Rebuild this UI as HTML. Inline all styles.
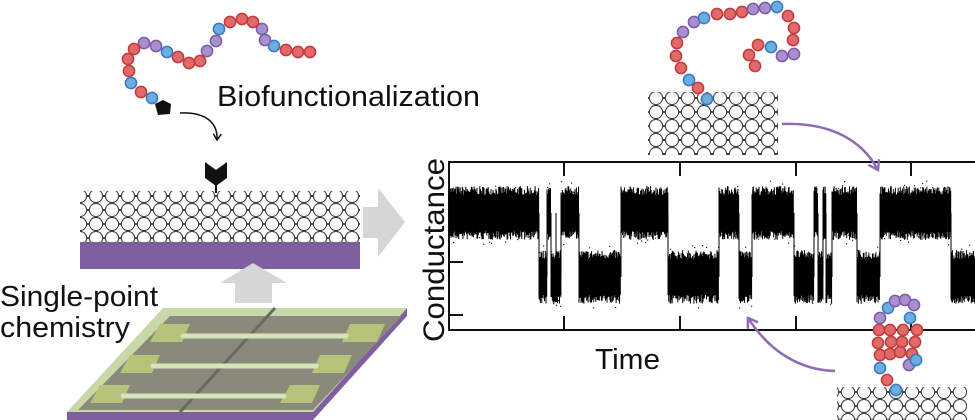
<!DOCTYPE html>
<html><head><meta charset="utf-8"><style>
html,body{margin:0;padding:0;background:#fff;width:975px;height:420px;overflow:hidden}
svg{display:block}
text{font-family:"Liberation Sans","DejaVu Sans",sans-serif;fill:#111}
</style></head><body>
<svg id="s" width="975" height="420" viewBox="0 0 975 420" xmlns="http://www.w3.org/2000/svg">
<defs>
<pattern id="hc" width="16" height="14" patternUnits="userSpaceOnUse">
<rect width="16" height="14" fill="#fff"/>
<circle cx="8" cy="7" r="6.6" fill="#fbfbfb" stroke="#444" stroke-width="1.1"/>
<circle cx="0" cy="0" r="6.6" fill="#fbfbfb" stroke="#444" stroke-width="1.1"/>
<circle cx="16" cy="0" r="6.6" fill="#fbfbfb" stroke="#444" stroke-width="1.1"/>
<circle cx="0" cy="14" r="6.6" fill="#fbfbfb" stroke="#444" stroke-width="1.1"/>
<circle cx="16" cy="14" r="6.6" fill="#fbfbfb" stroke="#444" stroke-width="1.1"/>
</pattern>
<marker id="ah" markerWidth="10" markerHeight="10" refX="7" refY="5" orient="auto" markerUnits="userSpaceOnUse"><path d="M1,1 L7,5 L1,9" fill="none" stroke="#111" stroke-width="1.5"/></marker>
<marker id="ap" markerWidth="14" markerHeight="14" refX="10" refY="7" orient="auto" markerUnits="userSpaceOnUse"><path d="M1,1 L10,7 L1,13" fill="none" stroke="#8e6bb5" stroke-width="2.5"/></marker>
</defs>

<rect x="80" y="191" width="280" height="51" fill="url(#hc)"/>
<rect x="80" y="242" width="280" height="27" fill="#7e5fa0"/>
<line x1="216" y1="178" x2="216" y2="193" stroke="#111" stroke-width="2"/>
<path d="M205,162 L216,170 L227,162 L227,178 L216,186 L205,178 Z" fill="#111"/>
<path d="M363,207 L378,207 L378,188 L405,222 L378,257 L378,238 L363,238 Z" fill="#d6d6d6"/>
<path d="M235,303 L235,283 L220,283 L253,263 L287,283 L272,283 L272,303 Z" fill="#d6d6d6"/>

<polygon points="407,308 407,316 313,420 313,412" fill="#7e5fa0"/>
<rect x="67" y="412" width="246" height="8" fill="#7e5fa0"/>
<polygon points="163,308 407,308 313,412 67,412" fill="#c8d8a8"/>
<polygon points="170,316 402,316 313,410 78,410" fill="#8a8a7c"/>
<line x1="275" y1="308" x2="180" y2="412" stroke="#6a6a60" stroke-width="3"/>
<g fill="#b7c27a">
<polygon points="160,324 190,324 182,342 150,342"/><polygon points="350,324 385,324 377,342 342,342"/>
<polygon points="130,355 160,355 152,373 120,373"/><polygon points="320,355 352,355 344,373 312,373"/>
<polygon points="100,385 130,385 122,403 90,403"/><polygon points="290,385 320,385 312,403 280,403"/>
</g>
<g stroke="#d6e4bc" stroke-width="5" stroke-linecap="round">
<line x1="183" y1="336" x2="346" y2="336"/><line x1="153" y1="366" x2="316" y2="366"/><line x1="123" y1="396" x2="284" y2="396"/>
</g>

<text x="217" y="106" font-size="29" textLength="263" lengthAdjust="spacingAndGlyphs">Biofunctionalization</text>
<text x="0" y="306" font-size="29" textLength="158" lengthAdjust="spacingAndGlyphs">Single-point</text>
<text x="0" y="337" font-size="29" textLength="130" lengthAdjust="spacingAndGlyphs">chemistry</text>
<text x="595" y="369" font-size="29" textLength="65" lengthAdjust="spacingAndGlyphs">Time</text>
<text transform="translate(444,250) rotate(-90)" font-size="30" text-anchor="middle" textLength="184" lengthAdjust="spacingAndGlyphs">Conductance</text>

<path d="M180,113 C205,112 218,122 217,140" fill="none" stroke="#111" stroke-width="1.5" marker-end="url(#ah)"/>

<g stroke="#111" stroke-width="2" fill="none">
<path d="M977,162 L449,162 L449,330 L977,330"/>
<path d="M564,162 V176 M680,162 V176 M796,162 V176 M911,162 V176 M564,330 V316 M680,330 V316 M796,330 V316 M911,330 V316 M449,262 H463 M449,315 H463"/>
</g>
<g id="sig"></g>

<rect x="648" y="92" width="130" height="63" fill="url(#hc)"/>
<rect x="837" y="387" width="130" height="40" fill="url(#hc)"/>

<path d="M782,124 C830,122 862,140 878,170" fill="none" stroke="#8e6bb5" stroke-width="2.5" marker-end="url(#ap)"/>
<path d="M835,371 C800,370 770,352 748,318" fill="none" stroke="#8e6bb5" stroke-width="2.5" marker-end="url(#ap)"/>
<g id="beads"></g>
</svg>
<script>
var NS="http://www.w3.org/2000/svg";
var sig=document.getElementById("sig");
var segs=[[449,539,'H'],[539,547,'L'],[547,551,'H'],[551,556,'L'],[556,561,'L'],[561,579,'H'],[579,621,'L'],[621,668,'H'],[668,719,'L'],[719,739,'H'],[739,752,'L'],[752,794,'H'],[794,814,'L'],[814,818,'H'],[818,823,'L'],[823,826,'H'],[826,832,'L'],[832,857,'H'],[857,880,'L'],[880,951,'H'],[951,975,'L']];
var seed=7;function r(){seed=(seed*16807)%2147483647;return seed/2147483647;}
var d="";
segs.forEach(function(s){var c=s[2]=='H'?213:277;for(var x=s[0];x<s[1];x+=0.7){var a=c-18-r()*9,b=c+18+r()*9;d+="M"+x.toFixed(1)+","+a.toFixed(1)+"V"+b.toFixed(1);}
for(var x=s[0];x<s[1];x+=2){var y=c+(r()-0.5)*64;d+="M"+x.toFixed(1)+","+y.toFixed(1)+"h1.2";}
d+="M"+s[0]+",213V277";});
var p=document.createElementNS(NS,"path");p.setAttribute("d",d);p.setAttribute("stroke","#000");p.setAttribute("stroke-width","1");sig.appendChild(p);
var col={r:["#e06a6a","#c43a3a"],b:["#6aaee0","#3a78c4"],p:["#a890cc","#7c5ca8"]};
var beads=[
[310,52,'r'],[298,52,'r'],[286,50,'r'],[274,46,'b'],[265,40,'p'],[262,29,'p'],[253,22,'r'],[242,19,'r'],[230,22,'r'],[219,29,'b'],[216,41,'p'],[207,51,'p'],[200,61,'r'],[189,63,'r'],[178,57,'r'],[167,52,'b'],[156,46,'p'],[144,43,'p'],[134,49,'r'],[128,59,'r'],[129,71,'r'],[131,83,'b'],[141,92,'r'],[152,98,'b'],
[707,99,'b'],[698,88,'r'],[689,80,'b'],[681,68,'r'],[676,56,'r'],[677,43,'r'],[683,32,'p'],[694,22,'p'],[704,18,'b'],[717,14,'r'],[730,14,'r'],[742,12,'r'],[753,9,'p'],[765,8,'p'],[777,7,'b'],[788,16,'r'],[794,28,'r'],[793,40,'r'],[794,54,'p'],[782,56,'p'],[771,47,'b'],[758,45,'r'],[749,55,'r'],[755,66,'r'],
[896,390,'b'],[887,380,'r'],[880,368,'b'],[880,355,'r'],[878,343,'r'],[879,330,'r'],[880,318,'p'],[888,308,'b'],[895,301,'p'],[905,300,'p'],[914,305,'p'],[910,318,'b'],[917,330,'r'],[915,342,'r'],[912,354,'r'],[909,365,'p'],[916,360,'b'],
[890,330,'r'],[891,342,'r'],[890,354,'r'],[903,330,'r'],[902,342,'r'],[900,352,'r']];
var g=document.getElementById("beads");
beads.forEach(function(b){var c=document.createElementNS(NS,"circle");c.setAttribute("cx",b[0]);c.setAttribute("cy",b[1]);c.setAttribute("r",5.6);c.setAttribute("fill",col[b[2]][0]);c.setAttribute("stroke",col[b[2]][1]);c.setAttribute("stroke-width",1.5);g.appendChild(c);});
var pg=document.createElementNS(NS,"path");pg.setAttribute("d","M155,104 L163,100 L171,104 L170,114 L158,115 Z");pg.setAttribute("fill","#111");g.appendChild(pg);
</script>
</body></html>
